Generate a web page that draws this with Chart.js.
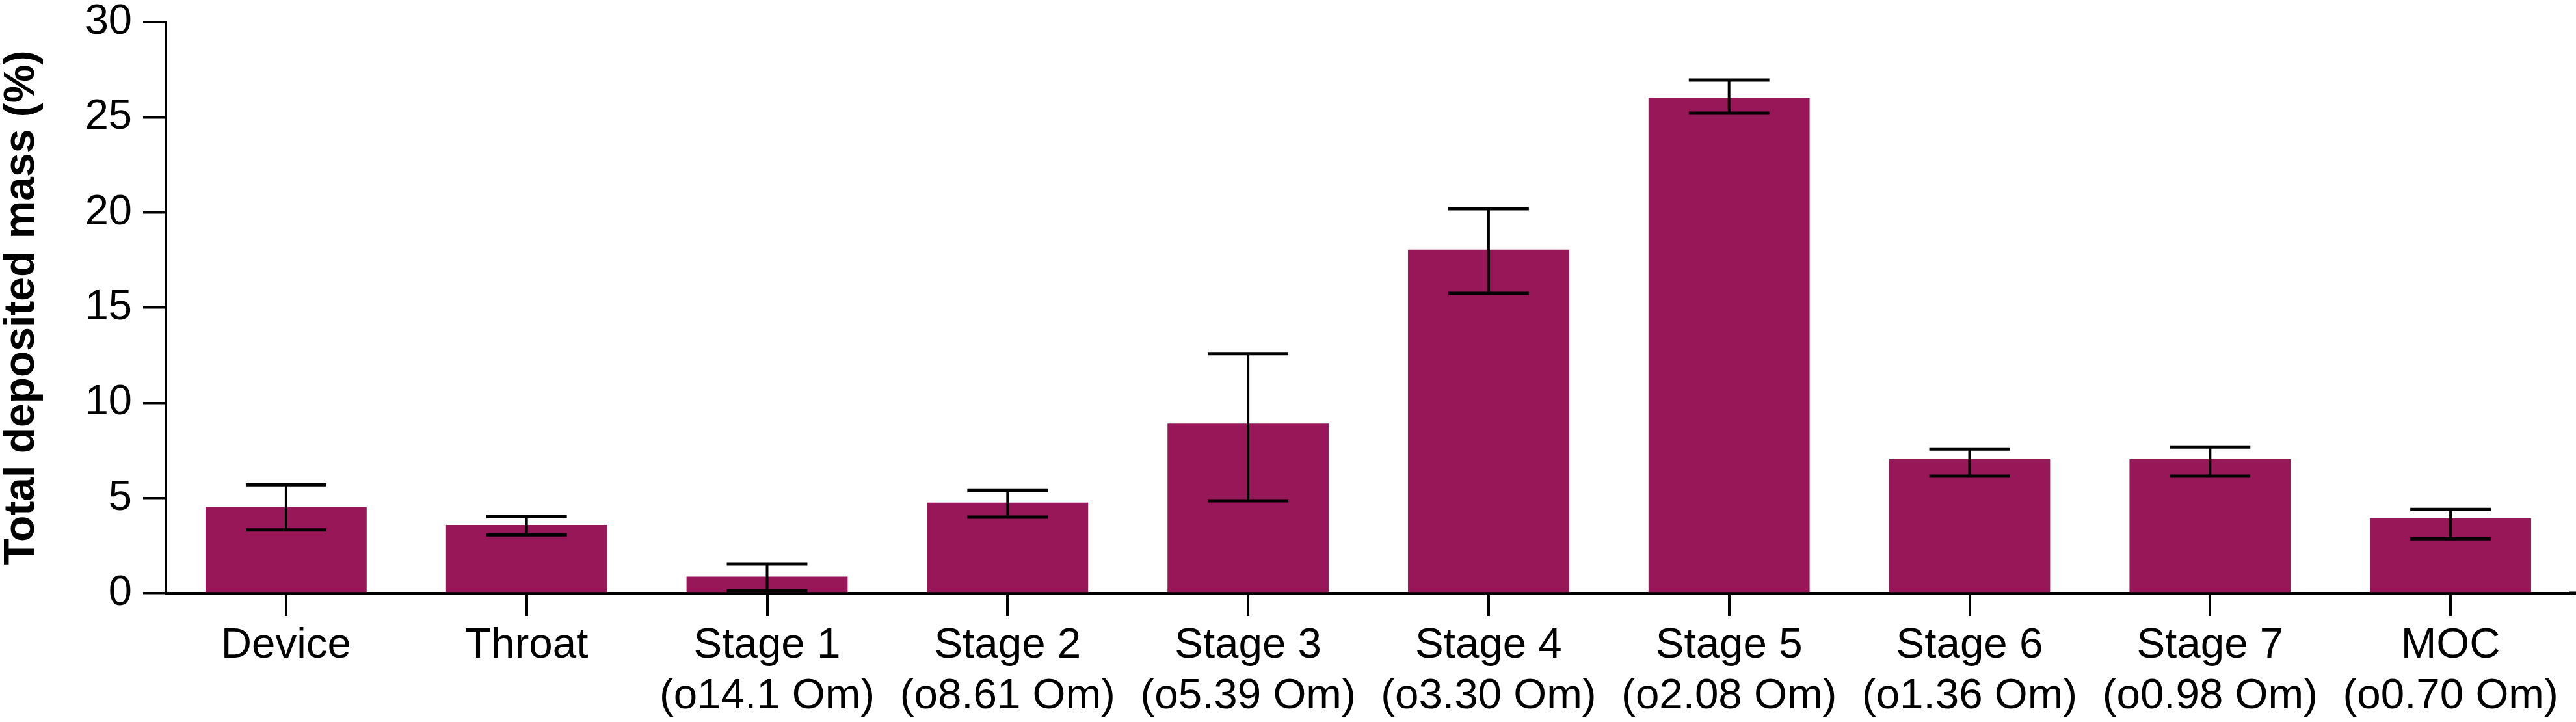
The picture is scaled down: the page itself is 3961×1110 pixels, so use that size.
<!DOCTYPE html>
<html>
<head>
<meta charset="utf-8">
<script src="https://cdn.jsdelivr.net/npm/chart.js@4/dist/chart.umd.min.js"></script>
<style>
  html, body { margin: 0; padding: 0; background: #ffffff; }
  #wrap { width: 3961px; height: 1110px; position: relative; }
</style>
</head>
<body>
<div id="wrap"><canvas id="c" width="3961" height="1110"></canvas></div>
<script>
// ---- Data ----
const categories = [
  ["Device"],
  ["Throat"],
  ["Stage 1", "(o14.1 Om)"],
  ["Stage 2", "(o8.61 Om)"],
  ["Stage 3", "(o5.39 Om)"],
  ["Stage 4", "(o3.30 Om)"],
  ["Stage 5", "(o2.08 Om)"],
  ["Stage 6", "(o1.36 Om)"],
  ["Stage 7", "(o0.98 Om)"],
  ["MOC", "(o0.70 Om)"]
];
const meanValues = [4.53, 3.59, 0.87, 4.76, 8.91, 18.05, 26.03, 7.04, 7.04, 3.94];
const errorUpper = [5.70, 4.02, 1.54, 5.39, 12.58, 20.19, 26.96, 7.58, 7.68, 4.40];
const errorLower = [3.32, 3.07, 0.14, 4.00, 4.85, 15.75, 25.22, 6.15, 6.15, 2.86];
const yTicks = [0, 5, 10, 15, 20, 25, 30];
const yTitle = "Total deposited mass (%)";

const FONT = "'Liberation Sans', Arial, Helvetica, sans-serif";
const BAR_COLOR = "#981758";

const errorBarPlugin = {
  id: "errorBars",
  afterDatasetsDraw(chart) {
    const ctx = chart.ctx;
    const meta = chart.getDatasetMeta(0);
    const y = chart.scales.y;
    ctx.save();
    ctx.strokeStyle = "#000000";
    meta.data.forEach((bar, i) => {
      const x = bar.x;
      const half = bar.width * 0.25;
      const yH = y.getPixelForValue(errorUpper[i]);
      const yL = y.getPixelForValue(errorLower[i]);
      ctx.lineWidth = 4;
      ctx.beginPath();
      ctx.moveTo(x, yH);
      ctx.lineTo(x, yL);
      ctx.stroke();
      ctx.lineWidth = 5;
      ctx.beginPath();
      ctx.moveTo(x - half, yH);
      ctx.lineTo(x + half, yH);
      ctx.moveTo(x - half, yL);
      ctx.lineTo(x + half, yL);
      ctx.stroke();
    });
    ctx.restore();
  }
};

const axisExtendPlugin = {
  id: "axisExtend",
  afterDraw(chart) {
    const ctx = chart.ctx;
    const a = chart.chartArea;
    ctx.save();
    ctx.strokeStyle = "#000000";
    ctx.lineWidth = 5;
    ctx.beginPath();
    ctx.moveTo(a.right - 2, a.bottom);
    ctx.lineTo(chart.width, a.bottom);
    ctx.stroke();
    ctx.restore();
  }
};

new Chart(document.getElementById("c"), {
  type: "bar",
  data: {
    labels: categories,
    datasets: [{
      data: meanValues,
      backgroundColor: BAR_COLOR,
      borderWidth: 0,
      categoryPercentage: 1.0,
      barPercentage: 0.67
    }]
  },
  options: {
    responsive: false,
    animation: false,
    devicePixelRatio: 1,
    layout: { padding: { top: 34, right: 8, bottom: 0, left: 0 } },
    plugins: {
      legend: { display: false },
      tooltip: { enabled: false }
    },
    scales: {
      x: {
        type: "category",
        offset: true,
        afterFit(scale) { scale.height = 198; },
        grid: {
          display: true,
          offset: false,
          drawOnChartArea: false,
          drawTicks: true,
          tickLength: 35,
          lineWidth: 4,
          color: "#000000",
          tickColor: "#000000"
        },
        border: { display: true, width: 5, color: "#000000" },
        ticks: {
          color: "#000000",
          padding: 6,
          maxRotation: 0,
          autoSkip: false,
          font: { family: FONT, size: 65.5, lineHeight: 1.205 }
        }
      },
      y: {
        min: 0,
        max: 30,
        afterFit(scale) { scale.width = 255; },
        afterBuildTicks(scale) { scale.ticks = yTicks.map(v => ({ value: v })); },
        grid: {
          display: true,
          drawOnChartArea: false,
          drawTicks: true,
          tickLength: 35,
          lineWidth: 3.5,
          color: "#000000",
          tickColor: "#000000"
        },
        border: { display: true, width: 4, color: "#000000" },
        ticks: {
          color: "#000000",
          padding: 17,
          font: { family: FONT, size: 65, lineHeight: 0.5 }
        },
        title: {
          display: true,
          text: yTitle,
          color: "#000000",
          padding: { top: 1, bottom: 0 },
          font: { family: FONT, size: 66, weight: "bold", lineHeight: 1.0 }
        }
      }
    }
  },
  plugins: [errorBarPlugin, axisExtendPlugin]
});
</script>
</body>
</html>
